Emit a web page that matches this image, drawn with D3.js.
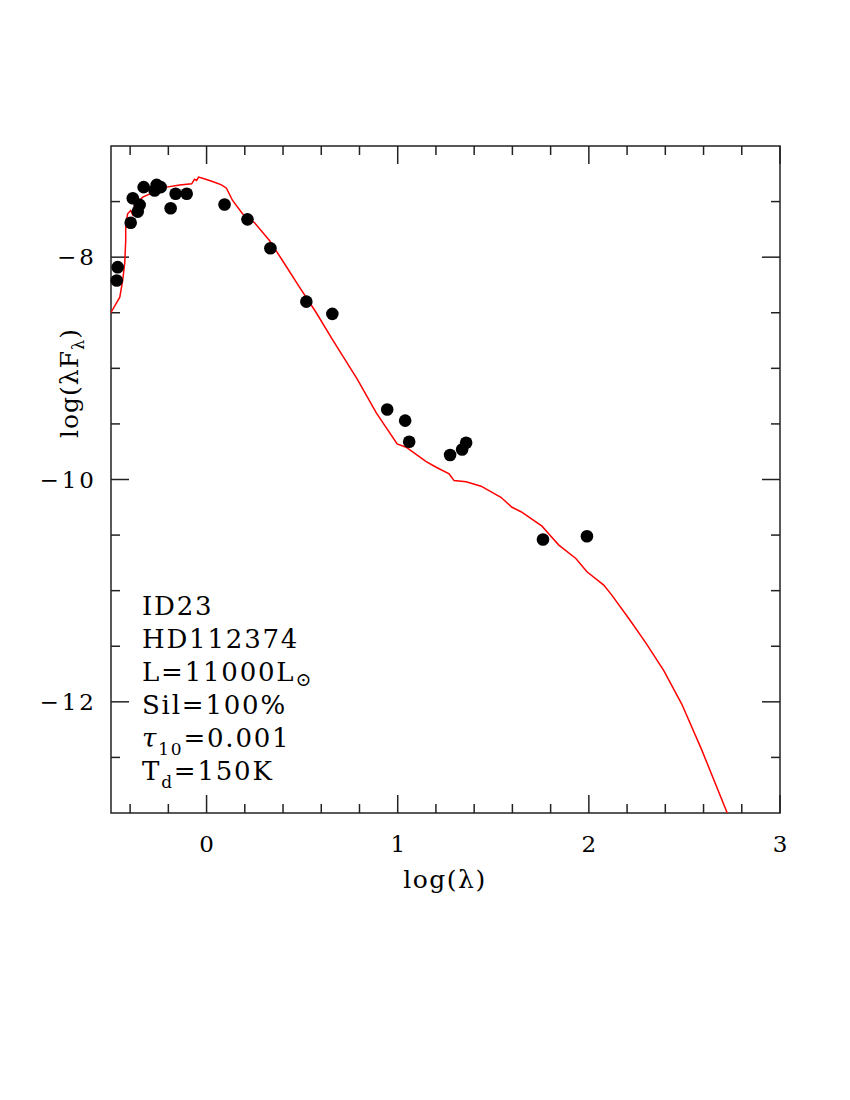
<!DOCTYPE html>
<html>
<head>
<meta charset="utf-8">
<script src="https://cdn.jsdelivr.net/npm/d3@7"></script>
<style>
  body { margin: 0; background: #fff; }
  text { font-family: "DejaVu Serif", "Liberation Serif", serif; fill: #000; }
</style>
</head>
<body>
<svg id="chart" width="850" height="1100"></svg>
<script>
// observed photometry: log(lambda), log(lambda F_lambda)
const obsX = [-0.465, -0.47, -0.397, -0.386, -0.350, -0.360, -0.329, -0.272, -0.261, -0.240, -0.188, -0.162, -0.104,
  0.094, 0.214, 0.334, 0.522, 0.658, 0.945, 1.039, 1.060, 1.274, 1.337, 1.358, 1.760, 1.990];
const obsY = [-8.09, -8.21, -7.69, -7.47, -7.53, -7.59, -7.37, -7.40, -7.35, -7.37, -7.56, -7.43, -7.43,
  -7.526, -7.66, -7.92, -8.40, -8.51, -9.37, -9.47, -9.66, -9.78, -9.73, -9.67, -10.54, -10.51];

// model SED
const modelX = [-0.501, -0.454, -0.439, -0.428, -0.423, -0.423, -0.413, -0.397, -0.386, -0.376, -0.334, -0.282,
  -0.209, -0.141, -0.078, -0.063, -0.052, -0.042, -0.021, 0.031, 0.078, 0.104, 0.136, 0.188, 0.251, 0.329,
  0.397, 0.486, 0.574, 0.658, 0.789, 0.888, 0.997, 1.044, 1.149, 1.201, 1.269, 1.295, 1.358, 1.436, 1.540,
  1.598, 1.645, 1.755, 1.791, 1.843, 1.932, 1.990, 2.078, 2.120, 2.209, 2.298, 2.392, 2.486, 2.590, 2.724];
const modelY = [-8.50, -8.36, -8.21, -8.05, -7.85, -7.71, -7.61, -7.58, -7.62, -7.53, -7.46, -7.42,
  -7.37, -7.35, -7.34, -7.30, -7.31, -7.28, -7.29, -7.32, -7.35, -7.38, -7.49, -7.61, -7.69, -7.85,
  -8.03, -8.27, -8.50, -8.74, -9.10, -9.40, -9.68, -9.71, -9.84, -9.89, -9.95, -10.01, -10.02, -10.06, -10.16,
  -10.25, -10.29, -10.42, -10.49, -10.59, -10.71, -10.83, -10.95, -11.04, -11.25, -11.47, -11.72, -12.02, -12.43, -13.0];

const xTicks = [0, 1, 2, 3];
const yTicks = [-8, -10, -12];
const labelLines = ["ID23", "HD112374", "L=11000L", "Sil=100%", "τ=0.001", "T=150K"];

const svg = d3.select("#chart");
const pL = 111, pR = 780, pT = 146, pB = 813;

const x = d3.scaleLinear().domain([-0.5, 3]).range([pL, pR]);
const y = d3.scaleLinear().domain([-13, -7]).range([pB, pT]);

// clip for the model line
svg.append("clipPath").attr("id", "clip")
  .append("rect").attr("x", pL).attr("y", pT).attr("width", pR - pL).attr("height", pB - pT);

// ticks on all four sides
const minorX = d3.range(-0.4, 3.0001, 0.2).map(v => +v.toFixed(2));
const minorY = d3.range(-12.5, -7.0001, 0.5).map(v => +v.toFixed(2));
const isMajorX = v => Math.abs(v - Math.round(v)) < 1e-6;
const isMajorY = v => Math.abs(v / 2 - Math.round(v / 2)) < 1e-6;

const ticks = svg.append("g").attr("stroke", "#222").attr("stroke-width", 1.5);
minorX.forEach(v => {
  const len = isMajorX(v) ? 18 : 9;
  ticks.append("line").attr("x1", x(v)).attr("x2", x(v)).attr("y1", pB).attr("y2", pB - len);
  ticks.append("line").attr("x1", x(v)).attr("x2", x(v)).attr("y1", pT).attr("y2", pT + len);
});
minorY.forEach(v => {
  const len = isMajorY(v) ? 18 : 9;
  ticks.append("line").attr("y1", y(v)).attr("y2", y(v)).attr("x1", pL).attr("x2", pL + len);
  ticks.append("line").attr("y1", y(v)).attr("y2", y(v)).attr("x1", pR).attr("x2", pR - len);
});

// frame
svg.append("rect").attr("x", pL).attr("y", pT).attr("width", pR - pL).attr("height", pB - pT)
  .attr("fill", "none").attr("stroke", "#222").attr("stroke-width", 1.5);

// tick labels
svg.append("g").selectAll("text").data(xTicks).join("text")
  .attr("x", d => x(d)).attr("y", 852).attr("text-anchor", "middle")
  .attr("font-size", 23).text(d => d);
svg.append("g").selectAll("text").data(yTicks).join("text")
  .attr("x", 97).attr("y", d => y(d) + 8).attr("text-anchor", "end")
  .attr("font-size", 23).attr("letter-spacing", 3).text(d => "\u2212" + Math.abs(d));

// axis titles
svg.append("text").attr("x", 445).attr("y", 888).attr("text-anchor", "middle")
  .attr("font-size", 25).attr("letter-spacing", 1.5).text("log(λ)");
const yl = svg.append("text").attr("transform", "translate(78,383) rotate(-90)")
  .attr("text-anchor", "middle").attr("font-size", 25).attr("letter-spacing", 1);
yl.append("tspan").text("log(λF");
yl.append("tspan").attr("font-size", 16).attr("dy", 6).text("λ");
yl.append("tspan").attr("dy", -6).text(")");

// model line
const line = d3.line().x((d, i) => x(modelX[i])).y((d, i) => y(modelY[i]));
svg.append("path").datum(modelX).attr("d", line).attr("clip-path", "url(#clip)")
  .attr("fill", "none").attr("stroke", "#ff0000").attr("stroke-width", 1.5);

// observed points
svg.append("g").selectAll("circle").data(obsX).join("circle")
  .attr("cx", d => x(d)).attr("cy", (d, i) => y(obsY[i])).attr("r", 6.3).attr("fill", "#000");

// annotation block
const ann = svg.append("g").attr("font-size", 26).attr("letter-spacing", 1.8);
const lx = 142, ly0 = 615, dy = 33;
ann.append("text").attr("x", lx).attr("y", ly0).text(labelLines[0]);
ann.append("text").attr("x", lx).attr("y", ly0 + dy).text(labelLines[1]);
const t3 = ann.append("text").attr("x", lx).attr("y", ly0 + 2 * dy);
t3.append("tspan").text(labelLines[2]);
t3.append("tspan").attr("font-size", 19).attr("dy", 5).text("⊙");
ann.append("text").attr("x", lx).attr("y", ly0 + 3 * dy).text(labelLines[3]);
const t5 = ann.append("text").attr("x", lx).attr("y", ly0 + 4 * dy);
t5.append("tspan").attr("font-style", "italic").text("τ");
t5.append("tspan").attr("font-size", 17).attr("dy", 8).text("10");
t5.append("tspan").attr("dy", -8).text("=0.001");
const t6 = ann.append("text").attr("x", lx).attr("y", ly0 + 5 * dy);
t6.append("tspan").text("T");
t6.append("tspan").attr("font-size", 17).attr("dy", 8).text("d");
t6.append("tspan").attr("dy", -8).text("=150K");
</script>
</body>
</html>
